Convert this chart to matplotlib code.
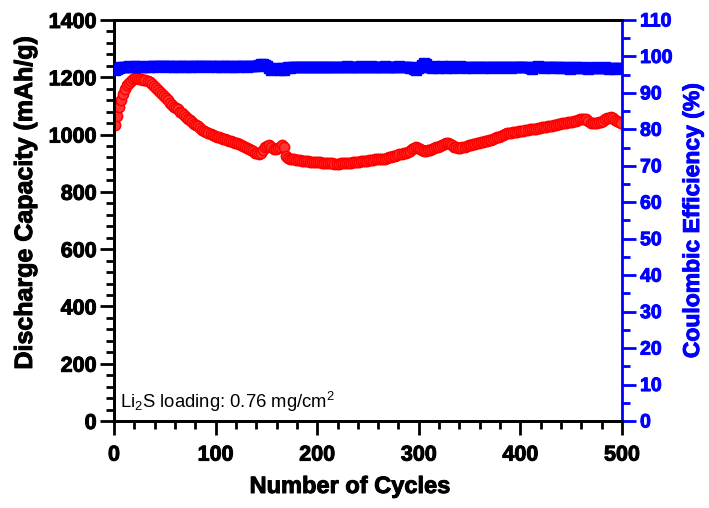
import numpy as np
import matplotlib
matplotlib.use("Agg")
import matplotlib.pyplot as plt
import matplotlib.patheffects as pe
from matplotlib.ticker import MultipleLocator

# Discharge capacity (mAh/g), every 2nd cycle starting at cycle 1
capacity = [
    1035, 1065, 1095, 1120, 1140, 1158, 1172, 1181, 1188, 1193,
    1196, 1197, 1195, 1193, 1191, 1189, 1186, 1182, 1178, 1171,
    1163, 1156, 1148, 1143, 1133, 1126, 1120, 1111, 1104, 1098,
    1092, 1088, 1080, 1074, 1070, 1061, 1055, 1051, 1043, 1037,
    1032, 1029, 1022, 1017, 1014, 1008, 1004, 1002, 997, 994,
    991, 990, 987, 985, 986, 981, 979, 978, 974, 971,
    969, 967, 963, 960, 958, 954, 951, 946, 942, 937,
    934, 933, 937, 945, 956, 961, 962, 955, 948, 950,
    953, 958, 964, 958, 925, 919, 916, 914, 913, 912,
    911, 910, 909, 908, 907, 906, 905, 905, 904, 904,
    903, 903, 902, 902, 901, 901, 900, 900, 899, 899,
    899, 900, 900, 901, 901, 902, 902, 903, 903, 904,
    905, 906, 907, 908, 909, 910, 911, 912, 913, 913,
    914, 914, 915, 916, 918, 920, 922, 924, 926, 928,
    931, 933, 935, 937, 940, 943, 948, 952, 956, 954,
    950, 946, 943, 944, 945, 947, 950, 952, 955, 957,
    960, 964, 967, 969, 970, 966, 962, 958, 955, 954,
    953, 955, 957, 960, 962, 964, 966, 968, 970, 972,
    974, 975, 977, 978, 980, 982, 984, 987, 990, 993,
    996, 999, 1002, 1004, 1006, 1007, 1008, 1009, 1010, 1011,
    1012, 1013, 1015, 1016, 1018, 1019, 1020, 1021, 1023, 1024,
    1026, 1027, 1028, 1029, 1030, 1031, 1033, 1034, 1036, 1037,
    1039, 1040, 1042, 1043, 1044, 1045, 1047, 1049, 1051, 1053,
    1055, 1056, 1053, 1047, 1042, 1040, 1040, 1041, 1043, 1045,
    1048, 1053, 1057, 1059, 1060, 1057, 1052, 1048, 1045, 1042,
]

# Coulombic efficiency (%), same cycles
efficiency = [
    96.4, 96.6, 96.8, 97.0, 97.1, 97.2, 97.2, 97.3, 97.2, 97.2,
    97.3, 97.2, 97.3, 97.2, 97.1, 97.2, 97.3, 97.2, 97.3, 97.3,
    97.2, 97.3, 97.4, 97.3, 97.3, 97.2, 97.3, 97.4, 97.3, 97.2,
    97.3, 97.2, 97.3, 97.4, 97.3, 97.2, 97.3, 97.2, 97.3, 97.4,
    97.3, 97.2, 97.3, 97.3, 97.4, 97.3, 97.2, 97.3, 97.4, 97.3,
    97.2, 97.3, 97.2, 97.3, 97.4, 97.3, 97.2, 97.3, 97.2, 97.3,
    97.3, 97.2, 97.3, 97.4, 97.3, 97.2, 97.3, 97.4, 97.3, 97.5,
    97.4, 97.6, 97.8, 97.9, 97.7, 97.3, 96.8, 96.4, 96.6, 96.9,
    96.5, 96.3, 96.7, 96.4, 96.9, 97.0, 96.8, 97.1, 97.2, 97.0,
    97.1, 97.2, 97.1, 97.0, 97.1, 97.2, 97.1, 97.0, 97.1, 97.2,
    97.1, 97.0, 97.1, 97.2, 97.1, 97.0, 97.2, 97.1, 97.0, 97.1,
    97.2, 97.1, 97.0, 97.2, 97.3, 97.1, 97.0, 97.2, 97.1, 97.0,
    97.2, 97.3, 97.2, 97.1, 97.0, 97.2, 97.3, 97.1, 97.0, 97.2,
    97.1, 97.0, 97.2, 97.3, 97.1, 97.0, 97.2, 97.1, 97.0, 97.2,
    97.3, 97.1, 97.0, 97.2, 97.1, 96.8, 97.0, 96.5, 96.3, 96.8,
    97.2, 97.6, 98.3, 97.8, 97.2, 97.0, 96.9, 97.3, 97.1, 96.8,
    97.0, 97.4, 97.1, 96.9, 97.2, 97.4, 97.0, 96.8, 97.1, 97.2,
    97.3, 97.0, 96.8, 97.1, 97.2, 97.0, 96.7, 97.0, 97.2, 97.1,
    97.0, 96.9, 97.1, 97.2, 97.0, 96.8, 97.1, 97.2, 97.0, 97.1,
    96.9, 97.0, 97.1, 97.2, 97.0, 96.8, 97.0, 97.1, 97.2, 97.0,
    97.0, 97.1, 97.2, 97.0, 96.9, 96.6, 97.0, 97.1, 97.3, 97.1,
    97.0, 96.9, 97.1, 97.2, 97.0, 96.8, 97.1, 97.2, 97.0, 96.8,
    96.9, 97.1, 97.0, 96.8, 96.6, 96.9, 97.0, 97.1, 96.9, 96.8,
    96.9, 97.0, 96.8, 96.6, 96.8, 96.9, 97.0, 96.9, 96.7, 96.8,
    96.9, 97.0, 96.8, 96.6, 96.7, 96.8, 96.6, 96.7, 96.8, 96.7,
]

cycles = 1 + 2 * np.arange(len(capacity))

x_label = "Number of Cycles"
y_label = "Discharge Capacity (mAh/g)"
y2_label = "Coulombic Efficiency (%)"
note = "Li$_2$S loading: 0.76 mg/cm$^2$"

plt.rcParams["font.family"] = ["Liberation Sans", "DejaVu Sans"]
plt.rcParams["mathtext.fontset"] = "custom"
plt.rcParams["mathtext.rm"] = "Liberation Sans"
plt.rcParams["mathtext.it"] = "Liberation Sans:italic"

W, H = 709, 508
L, R, T, B = 114, 622, 20, 421
fig = plt.figure(figsize=(W / 100, H / 100), dpi=100)
ax = fig.add_axes([L / W, 1 - B / H, (R - L) / W, (B - T) / H])
ax2 = ax.twinx()

ax.plot(cycles, capacity, linestyle="none", marker="o", markersize=7.4,
        markerfacecolor="#ff3535", markeredgecolor="red", markeredgewidth=1.1,
        zorder=3)
ax2.plot(cycles, efficiency, linestyle="none", marker="s", markersize=7.0,
         markerfacecolor="blue", markeredgecolor="blue", zorder=3)

ax.set_xlim(0, 500)
ax.set_ylim(0, 1400)
ax2.set_ylim(0, 110)

ax.xaxis.set_major_locator(MultipleLocator(100))
ax.xaxis.set_minor_locator(MultipleLocator(20))
ax.yaxis.set_major_locator(MultipleLocator(200))
ax.yaxis.set_minor_locator(MultipleLocator(40))
ax2.yaxis.set_major_locator(MultipleLocator(10))
ax2.yaxis.set_minor_locator(MultipleLocator(5))

for s in ["left", "bottom", "top"]:
    ax.spines[s].set_linewidth(2)
    ax2.spines[s].set_linewidth(2)
ax2.spines["right"].set_color("blue")
ax2.spines["right"].set_linewidth(2)
ax.spines["right"].set_visible(False)

ax.tick_params(axis="both", which="major", direction="out", length=10, width=2,
               labelsize=15.5)
ax.tick_params(axis="both", which="minor", direction="out", length=5.5, width=2)
ax.tick_params(axis="x", which="major", pad=7)
ax.tick_params(axis="y", which="major", pad=2.5)
ax.tick_params(axis="x", top=False, which="both")
ax2.tick_params(axis="y", which="major", direction="out", length=10, width=2,
                colors="blue", labelsize=14, pad=3)
ax2.tick_params(axis="y", which="minor", direction="out", length=6, width=2,
                colors="blue")

bold_k = [pe.withStroke(linewidth=0.7, foreground="black")]
bold_b = [pe.withStroke(linewidth=0.7, foreground="blue")]
for lab in ax.get_xticklabels() + ax.get_yticklabels():
    lab.set_fontweight("bold")
    lab.set_path_effects(bold_k)
for lab in ax2.get_yticklabels():
    lab.set_fontweight("bold")
    lab.set_path_effects(bold_b)

xl = ax.set_xlabel(x_label, fontsize=17, fontweight="bold")
yl = ax.set_ylabel(y_label, fontsize=18, fontweight="bold")
y2l = ax2.set_ylabel(y2_label, fontsize=16.5, fontweight="bold", color="blue")
ax.xaxis.set_label_coords((350 - L) / (R - L), -(475 - B) / (B - T))
ax.yaxis.set_label_coords(-(L - 37) / (R - L), (B - 203) / (B - T))
ax2.yaxis.set_label_coords((681 - L) / (R - L), (B - 221) / (B - T))
xl.set_path_effects(bold_k)
yl.set_path_effects(bold_k)
y2l.set_path_effects(bold_b)

ax.text(6, 45, note, fontsize=13.3, ha="left", va="baseline")

fig.savefig("out.png", dpi=100)
